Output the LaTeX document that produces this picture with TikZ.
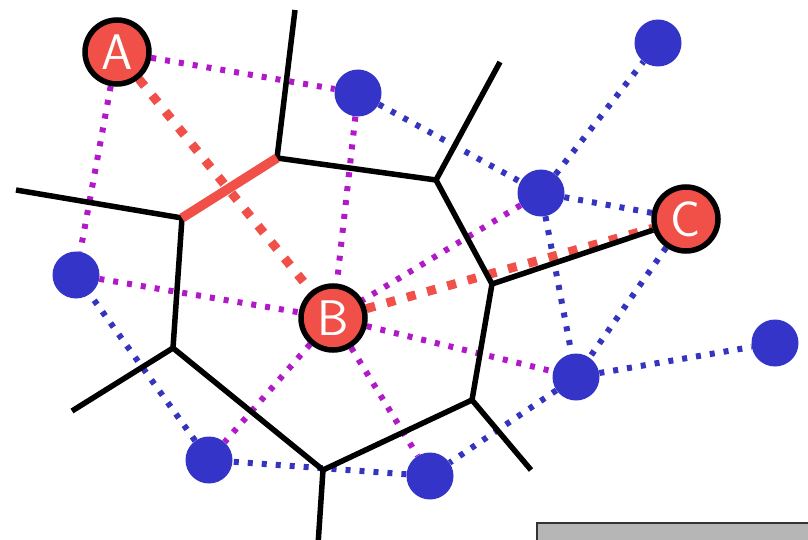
\documentclass[tikz,border=0pt]{standalone}
\definecolor{nodered}{RGB}{240,80,72}
\definecolor{dotblue}{RGB}{52,52,200}
\definecolor{magcol}{RGB}{176,24,200}
\definecolor{blucol}{RGB}{52,52,190}
\definecolor{boxgray}{RGB}{182,182,182}
\pgfdeclarelayer{dots}
\pgfdeclarelayer{cells}
\pgfsetlayers{dots,cells,main}
\begin{document}
\begin{tikzpicture}[x=1pt,y=-1pt,
  site/.style={circle,fill=nodered,draw=black,line width=5.5pt,minimum size=64pt,inner sep=0pt,text=white,font=\sffamily\fontsize{50}{50}\selectfont},
  dot/.style={circle,fill=dotblue,minimum size=47pt,inner sep=0pt},
  vor/.style={line width=5.5pt,black,line cap=butt,line join=miter},
  vorred/.style={line width=9.5pt,nodered},
  mag/.style={draw=magcol,line width=6pt,dash pattern=on 5pt off 9pt},
  blu/.style={draw=blucol,line width=6pt,dash pattern=on 5pt off 9pt},
  redd/.style={draw=nodered,line width=9pt,dash pattern=on 9pt off 12pt},
]
\useasboundingbox (0,0) rectangle (808,540);
\clip (0,0) rectangle (808,540);
% sites
\node[site] (A) at (117,52) {A};
\node[site] (B) at (333,318) {B};
\node[site] (C) at (686,219) {C};
\node[dot] (P1) at (358,93) {};
\node[dot] (P2) at (658,43) {};
\node[dot] (P3) at (541,193) {};
\node[dot] (P4) at (76,275) {};
\node[dot] (P5) at (209,460) {};
\node[dot] (P6) at (430,476) {};
\node[dot] (P7) at (576,377) {};
\node[dot] (P8) at (775,343) {};
% voronoi vertices
\coordinate (V1) at (277,158);
\coordinate (V2) at (182,218);
\coordinate (V3) at (436,180);
\coordinate (V4) at (492,284);
\coordinate (V5) at (173,348);
\coordinate (V6) at (323,470);
\coordinate (V7) at (472,400);
\coordinate (T1) at (295,10);
\coordinate (T2) at (500,62);
\coordinate (L1) at (16,190);
\coordinate (L2) at (72,411);
\coordinate (D1) at (318,545);
\coordinate (R1) at (531,470);
% dotted connections
\begin{pgfonlayer}{dots}
\draw[mag] (A) -- (P1);
\draw[mag] (A) -- (P4);
\draw[mag] (P1) -- (B);
\draw[mag] (P4) -- (B);
\draw[mag] (P3) -- (B);
\draw[mag] (B) -- (P5);
\draw[mag] (B) -- (P6);
\draw[mag] (B) -- (P7);
\draw[blu] (P1) -- (P3);
\draw[blu] (P3) -- (P2);
\draw[blu] (P3) -- (C);
\draw[blu] (P3) -- (P7);
\draw[blu] (C) -- (P7);
\draw[blu] (P7) -- (P8);
\draw[blu] (P7) -- (P6);
\draw[blu] (P6) -- (P5);
\draw[blu] (P5) -- (P4);
\draw[redd] (A) -- (B);
\draw[redd] (B) -- (C);
\end{pgfonlayer}
% voronoi edges
\begin{pgfonlayer}{cells}
\draw[vor] (T1) -- (V1) -- (V3) -- (T2);
\draw[vor] (L1) -- (V2) -- (V5) -- (L2);
\draw[vor] (V5) -- (V6) -- (D1);
\draw[vor] (V6) -- (V7) -- (R1);
\draw[vor] (V7) -- (V4) -- (V3);
\draw[vor] (V4) -- (C);
\draw[vorred] (V1) -- (V2);
\end{pgfonlayer}
% caption box (cut off)
\draw[fill=boxgray,draw=black!80,line width=1.5pt] (537,523) rectangle (830,560);
\end{tikzpicture}
\end{document}
